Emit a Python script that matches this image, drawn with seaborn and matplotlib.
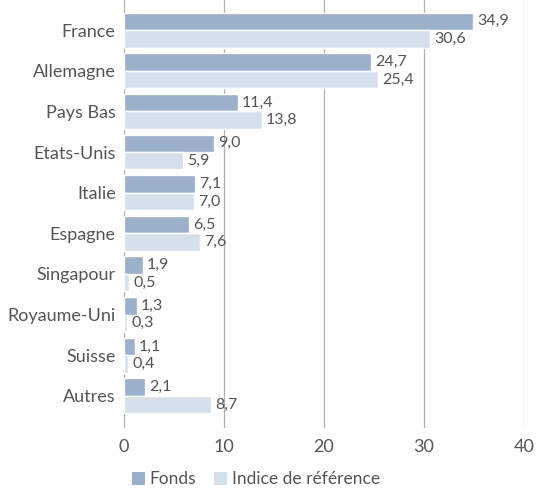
import matplotlib
matplotlib.use("Agg")
import matplotlib.pyplot as plt
import seaborn as sns
import pandas as pd
from matplotlib.patches import Patch

categories = ["France", "Allemagne", "Pays Bas", "Etats-Unis", "Italie", "Espagne",
              "Singapour", "Royaume-Uni", "Suisse", "Autres"]
fonds = [34.9, 24.7, 11.4, 9.0, 7.1, 6.5, 1.9, 1.3, 1.1, 2.1]
indice = [30.6, 25.4, 13.8, 5.9, 7.0, 7.6, 0.5, 0.3, 0.4, 8.7]
series_names = ["Fonds", "Indice de référence"]
xticks = [0, 10, 20, 30, 40]

colors = ["#9bb0cb", "#d6e0ea"]
text_color = "#555555"

df = pd.DataFrame({
    "pays": categories * 2,
    "valeur": fonds + indice,
    "serie": [series_names[0]] * len(categories) + [series_names[1]] * len(categories),
})

sns.set_style("white")
plt.rcParams["font.family"] = ["Lato", "DejaVu Sans"]

fig = plt.figure(figsize=(5.36, 4.92), dpi=100)
ax = fig.add_axes([124 / 536, 64 / 492, 400 / 536, 428 / 492])

sns.barplot(data=df, y="pays", x="valeur", hue="serie", orient="h",
            palette=colors, width=0.86, ax=ax, legend=False, saturation=1)

for i, cont in enumerate(ax.containers):
    labels = [f"{v:.1f}".replace(".", ",") for v in cont.datavalues]
    ax.bar_label(cont, labels=labels, padding=3, fontsize=11.5, color=text_color)

ax.set_xlim(0, 40)
ax.set_ylim(9.79, -0.74)
ax.set_xticks(xticks)
ax.set_xticklabels([str(t) for t in xticks], fontsize=13, color=text_color)
ax.tick_params(axis="y", labelsize=13, labelcolor=text_color, length=0, pad=6)
ax.tick_params(axis="x", length=0, pad=8)
ax.set_xlabel("")
ax.set_ylabel("")
for s in ax.spines.values():
    s.set_visible(False)
ax.grid(axis="x", color="#b0b0b0", linewidth=0.9)
ax.set_axisbelow(True)

handles = [Patch(facecolor=c, edgecolor="none") for c in colors]
fig.legend(handles, series_names, loc="lower left", bbox_to_anchor=(116 / 536, -0.022),
           frameon=False, ncol=2, fontsize=12.5, handlelength=0.75, handleheight=0.75,
           handletextpad=0.3, columnspacing=1.0, labelcolor=text_color)

fig.savefig("out.png", dpi=100)
